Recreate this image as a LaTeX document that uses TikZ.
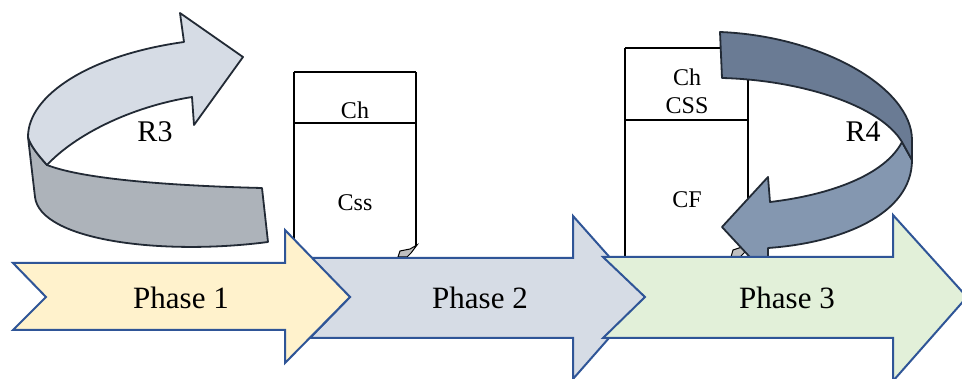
\documentclass[tikz,border=0pt]{standalone}
\usepackage{fontspec}
\setmainfont{Liberation Serif}
\begin{document}
\begin{tikzpicture}[x=1pt,y=-1pt,
  phase/.style={draw=phaseblue,line width=2pt,line join=miter},
  ribbon/.style={draw=ribbonedge,line width=1.8pt,line join=round},
  boxline/.style={draw=black,line width=1.8pt},
  phasetext/.style={inner sep=0pt,font=\fontsize{31}{36}\selectfont},
  rtext/.style={inner sep=0pt,font=\fontsize{30}{34}\selectfont},
  boxtext/.style={inner sep=0pt,font=\fontsize{24}{28}\selectfont,align=center}]
\definecolor{phaseblue}{HTML}{2F5597}
\definecolor{pone}{HTML}{FFF2CC}
\definecolor{ptwo}{HTML}{D6DCE5}
\definecolor{pthree}{HTML}{E2F0D9}
\definecolor{ribbonedge}{HTML}{222A35}
\definecolor{rthreelight}{HTML}{D6DCE5}
\definecolor{rthreegray}{HTML}{ADB3BA}
\definecolor{rfourdark}{HTML}{6A7B94}
\definecolor{rfourlight}{HTML}{8497B0}
\definecolor{bitgray}{HTML}{BFBFBF}
\useasboundingbox[fill=white] (0,0) rectangle (962,379);

% ---- boxes
\draw[boxline] (294,72) -- (416,72);
\draw[boxline] (294,123) -- (416,123);
\draw[boxline] (294,72) -- (294,245);
\draw[boxline] (416,72) -- (416,246);
\node[boxtext] (ch1) at (355,110) {Ch};
\node[boxtext] (css1) at (355,203) {Css};
\filldraw[fill=bitgray,draw=black,line width=1pt] (398,257) -- (400,251) -- (410,249) -- (417,245) -- (411,253) -- (407,257) -- cycle;

\draw[boxline] (625,48) -- (730,48);
\draw[boxline] (625,120) -- (748,120);
\draw[boxline] (625,48) -- (625,258);
\draw[boxline] (748,60) -- (748,250);
\node[boxtext] (ch2) at (687,77) {Ch};
\node[boxtext] (css2) at (687,106) {CSS};
\node[boxtext] (cf2) at (687,200) {CF};
\filldraw[fill=bitgray,draw=black,line width=1pt] (731,257) -- (733,250) -- (742,247) -- (745,252) -- (740,257) -- cycle;

% ---- R3 ribbon arrow
\filldraw[ribbon,fill=rthreegray] (28,137) -- (35,197)
  .. controls (40,240) and (160,256) .. (268,242) -- (262,188)
  .. controls (180,186) and (85,180) .. (47,165)
  .. controls (38,155) and (30,145) .. (28,137) -- cycle;
\filldraw[ribbon,fill=rthreelight] (184,42) -- (180,13) -- (243,57) -- (194,125) -- (192,97)
  .. controls (130,107) and (75,135) .. (47,165)
  .. controls (38,155) and (30,145) .. (28,137)
  .. controls (28,95) and (90,55) .. (184,42) -- cycle;
\node[rtext] (r3) at (155,132) {R3};

% ---- R4 ribbon arrow
\filldraw[ribbon,fill=rfourlight] (902,142) -- (912,160)
  .. controls (912,215) and (840,243) .. (768,248) -- (768,268) -- (760,268)
  -- (722,227) -- (768,177) -- (770,202)
  .. controls (830,195) and (885,175) .. (902,142) -- cycle;
\filldraw[ribbon,fill=rfourdark] (720,32)
  .. controls (822,36) and (912,88) .. (912,140) -- (912,160) -- (902,142)
  .. controls (880,105) and (800,80) .. (722,78) -- cycle;
\node[rtext] (r4) at (863,132) {R4};

% ---- phase arrows
\filldraw[phase,fill=ptwo] (311,258) -- (573,258) -- (573,216) -- (645,297) -- (573,379)
  -- (573,338) -- (310,338) -- (350,297) -- cycle;
\filldraw[phase,fill=pthree] (603,257) -- (893,257) -- (893,215) -- (967,297) -- (893,381)
  -- (893,338) -- (603,338) -- (645,297) -- cycle;
\filldraw[phase,fill=pone] (13,263) -- (285,263) -- (285,230) -- (350,297) -- (285,363)
  -- (285,330) -- (13,330) -- (46,297) -- cycle;
\node[phasetext] (p1) at (181,298) {Phase 1};
\node[phasetext] (p2) at (480,298) {Phase 2};
\node[phasetext] (p3) at (787,298) {Phase 3};
\end{tikzpicture}
\end{document}
